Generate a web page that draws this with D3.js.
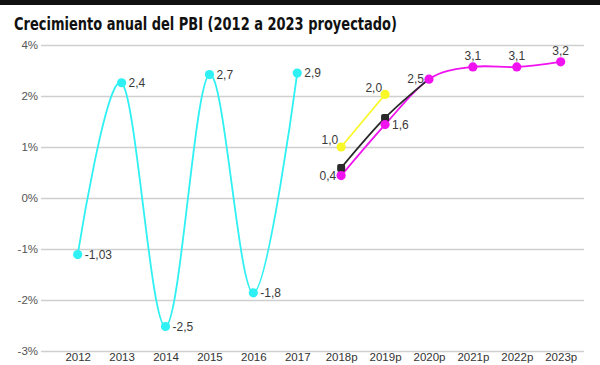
<!DOCTYPE html>
<html><head><meta charset="utf-8">
<script src="https://cdn.jsdelivr.net/npm/d3@7"></script>
<style>
html,body{margin:0;padding:0;background:#fff;}
svg{display:block;}
</style></head>
<body>
<svg id="chart" width="600" height="365"></svg>
<script>
const title = "Crecimiento anual del PBI (2012 a 2023 proyectado)";
const years = ["2012","2013","2014","2015","2016","2017","2018p","2019p","2020p","2021p","2022p","2023p"];
const yTickValues = [3, 2, 1, 0, -1, -2, -3];
const yTickLabels = ["4%", "2%", "1%", "0%", "-1%", "-2%", "-3%"];

const cyanYears = ["2012","2013","2014","2015","2016","2017"];
const cyanValues = [-1.11, 2.26, -2.52, 2.42, -1.86, 2.45];
const cyanLabels = ["-1,03", "2,4", "-2,5", "2,7", "-1,8", "2,9"];
const cyanPlace = ["right","right","right","right","right","right"];

const yellowYears = ["2018p","2019p"];
const yellowValues = [1.0, 2.03];
const yellowLabels = ["1,0", "2,0"];
const yellowPlace = ["aboveLeft","aboveLeft"];

const blackYears = ["2018p","2019p","2020p"];
const blackValues = [0.59, 1.57, 2.33];

const magentaYears = ["2018p","2019p","2020p","2021p","2022p","2023p"];
const magentaValues = [0.44, 1.44, 2.33, 2.57, 2.57, 2.67];
const magentaLabels = ["0,4", "1,6", "2,5", "3,1", "3,1", "3,2"];
const magentaPlace = ["left","right","left","above","above","above"];

const svg = d3.select("#chart");
const W = 600, H = 365;

// top dark band
svg.append("rect").attr("x",0).attr("y",0).attr("width",W).attr("height",5).attr("fill","#111");

svg.append("text")
  .attr("x", 14).attr("y", 30)
  .attr("font-family", "'Liberation Sans Narrow','DejaVu Sans Condensed','Liberation Sans',sans-serif")
  .attr("font-weight", "bold").attr("font-size", 18.5)
  .attr("textLength", 383).attr("lengthAdjust", "spacingAndGlyphs")
  .attr("fill", "#111").text(title);

const x = d3.scalePoint().domain(years).range([77.7, 560.7]);
const y = d3.scaleLinear().domain([-3, 3]).range([351, 45]);

const gridL = 41, gridR = 584;
const yAxis = d3.axisLeft(y).tickValues(yTickValues)
  .tickFormat((d,i) => yTickLabels[i]).tickSize(-(gridR - gridL)).tickPadding(3);
const gy = svg.append("g").attr("transform", `translate(${gridL},0)`).call(yAxis);
gy.select(".domain").remove();
gy.selectAll(".tick line").attr("stroke", "#cfcfcf").attr("stroke-width", 1.6);
gy.selectAll(".tick text").attr("font-family", "'Liberation Sans',Arial,sans-serif")
  .attr("font-size", 11.5).attr("fill", "#555");

const xAxis = d3.axisBottom(x).tickSize(0).tickPadding(0);
const gx = svg.append("g").attr("transform", `translate(0,350)`).call(xAxis);
gx.select(".domain").remove();
gx.selectAll(".tick text").attr("font-family", "'Liberation Sans',Arial,sans-serif")
  .attr("font-size", 11.5).attr("fill", "#333").attr("dy", "0.95em");

const curve = d3.curveCardinal.tension(0);
function series(yrs, vals, color, c) {
  const line = d3.line().x((d,i) => x(yrs[i])).y(d => y(d)).curve(c || curve);
  svg.append("path").datum(vals).attr("d", line).attr("fill", "none")
    .attr("stroke", color).attr("stroke-width", 1.8);
}
function dots(yrs, vals, color) {
  svg.append("g").selectAll("circle").data(vals).join("circle")
    .attr("cx", (d,i) => x(yrs[i])).attr("cy", d => y(d)).attr("r", 4.6).attr("fill", color);
}
function labels(yrs, vals, texts, place) {
  svg.append("g").selectAll("text").data(vals).join("text")
    .attr("font-family", "'Liberation Sans',Arial,sans-serif").attr("font-size", 12)
    .attr("fill", "#3a3a3a")
    .attr("x", (d,i) => {
      const cx = x(yrs[i]);
      const p = place[i];
      if (p === "right") return cx + 7;
      if (p === "left") return cx - 5;
      if (p === "aboveLeft") return cx - 3;
      return cx;
    })
    .attr("y", (d,i) => {
      const cy = y(d);
      const p = place[i];
      if (p === "aboveLeft") return cy - 7 + 4.3;
      if (p === "above") return cy - 11 + 4.3;
      return cy + 4.3;
    })
    .attr("text-anchor", (d,i) => {
      const p = place[i];
      if (p === "right") return "start";
      if (p === "above") return "middle";
      return "end";
    })
    .text((d,i) => texts[i]);
}

series(cyanYears, cyanValues, "#2ff0f2");
series(yellowYears, yellowValues, "#f8f828", d3.curveLinear);
series(magentaYears, magentaValues, "#f013f0");
series(blackYears, blackValues, "#2a2a2a");

dots(cyanYears, cyanValues, "#2ff0f2");
dots(yellowYears, yellowValues, "#f8f828");
svg.append("g").selectAll("rect").data(blackValues.slice(0, 2)).join("rect")
  .attr("x", (d,i) => x(blackYears[i]) - 4).attr("y", d => y(d) - 4)
  .attr("width", 8).attr("height", 8).attr("rx", 2).attr("fill", "#2a2a2a");
dots(magentaYears, magentaValues, "#f013f0");

labels(cyanYears, cyanValues, cyanLabels, cyanPlace);
labels(yellowYears, yellowValues, yellowLabels, yellowPlace);
labels(magentaYears, magentaValues, magentaLabels, magentaPlace);
</script>
</body></html>
